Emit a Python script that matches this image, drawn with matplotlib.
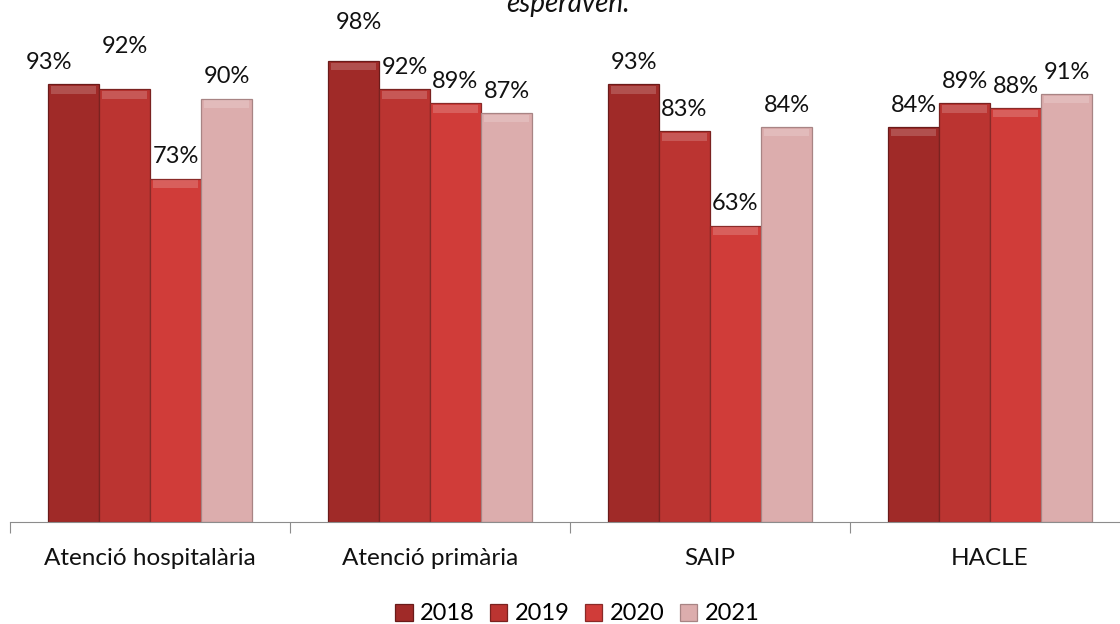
import numpy as np
import matplotlib
matplotlib.use('Agg')
import matplotlib.pyplot as plt

categories = ['Atenció hospitalària', 'Atenció primària', 'SAIP', 'HACLE']
years = ['2018', '2019', '2020', '2021']
values = {
    '2018': [93, 98, 93, 84],
    '2019': [92, 92, 83, 89],
    '2020': [73, 89, 63, 88],
    '2021': [90, 87, 84, 91],
}
colors = ['#a02a28', '#bb3431', '#d03c39', '#dcadad']
edges = ['#6a1b1a', '#7a2220', '#8a2a28', '#a88484']

plt.rcParams['font.family'] = ['Lato', 'DejaVu Sans']

fig = plt.figure(figsize=(11.2, 6.24), dpi=100)
ax = fig.add_axes([10 / 1120, 102 / 624, 1.0, 522 / 624])

x = np.arange(len(categories))
width = 0.182
# label nudges (points) where the original placement is not centred
nudge = {('2018', 0): (-18, 0), ('2019', 0): (0, 15), ('2018', 1): (4, 12)}

for i, yr in enumerate(years):
    pos = x + (i - 1.5) * width
    vals = np.array(values[yr])
    bars = ax.bar(pos, vals, width, color=colors[i], edgecolor=edges[i],
                  linewidth=0.9, label=yr, zorder=2)
    # lighter top bevel to mimic the 3D look
    ax.bar(pos, 1.6, width * 0.9, bottom=vals - 2.0,
           color='white', alpha=0.18, linewidth=0, zorder=3)
    for j, b in enumerate(bars):
        dx, dy = nudge.get((yr, j), (0, 0))
        ax.annotate(f'{vals[j]}%', (b.get_x() + b.get_width() / 2, b.get_height()),
                    xytext=(dx, 8 + dy), textcoords='offset points',
                    ha='center', va='bottom', fontsize=17, color='#111111')

ax.set_xlim(-0.5, 3.5)
ax.set_ylim(0, 522 / 4.705)
ax.set_yticks([])
for s in ['top', 'right', 'left']:
    ax.spines[s].set_visible(False)
ax.spines['bottom'].set_color('#8c8c8c')
ax.set_xticks(np.arange(-0.5, 4.0, 1.0), minor=False)
ax.set_xticklabels([])
ax.tick_params(axis='x', which='major', length=8, color='#8c8c8c', direction='out')
ax.set_xticks(x, minor=True)
ax.set_xticklabels(categories, minor=True, fontsize=17.5, color='#111111')
ax.tick_params(axis='x', which='minor', length=0, pad=19)

# title is cut at the top edge in the original too
fig.text(568 / 1120, 1 - 12 / 624, 'esperaven.', ha='center', va='baseline',
         fontsize=20, style='italic', color='#111111')

leg = fig.legend(loc='center', bbox_to_anchor=(577 / 1120, 1 - 614 / 624), ncol=4,
                 frameon=False, fontsize=17, handlelength=0.75, handleheight=0.75,
                 handletextpad=0.3, columnspacing=0.65)

fig.savefig('out.png', dpi=100)
